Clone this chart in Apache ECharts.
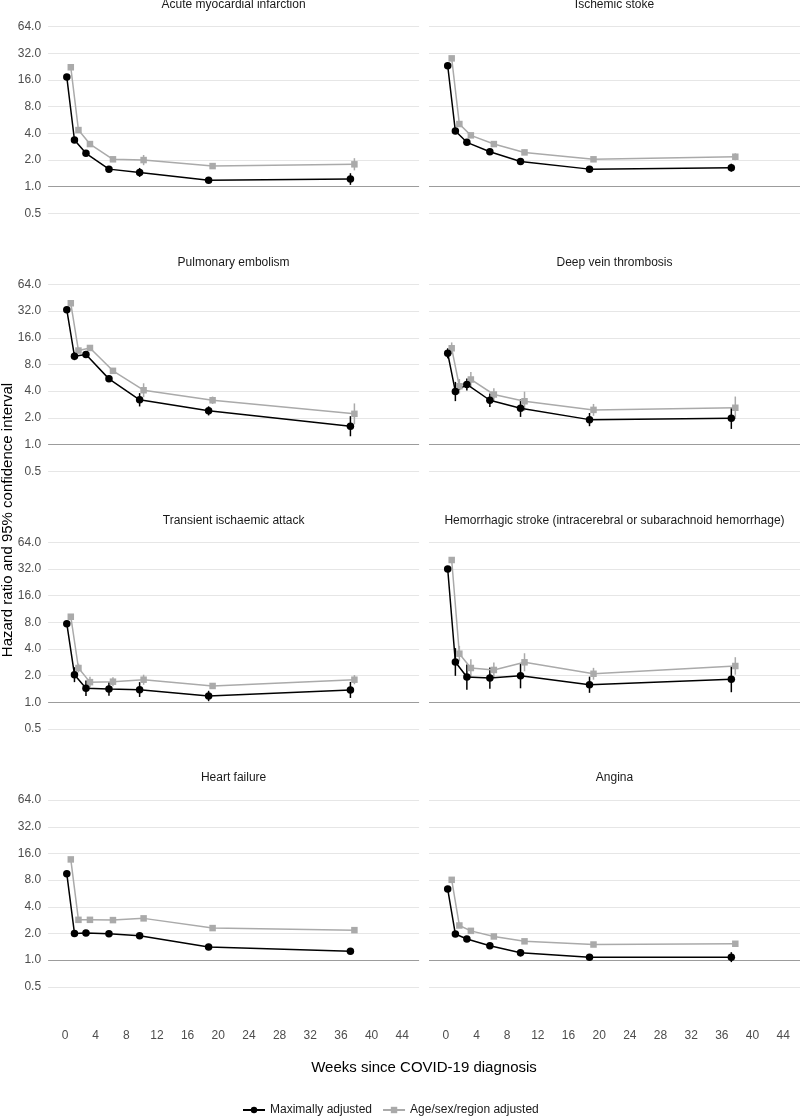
<!DOCTYPE html>
<html>
<head>
<meta charset="utf-8">
<script src="https://cdn.jsdelivr.net/npm/echarts@6/dist/echarts.min.js"></script>
<style>html,body{margin:0;padding:0;background:#fff}#c{width:800px;height:1118px}</style>
</head>
<body>
<div id="c"></div>
<script>
// ---------- data ----------
const outcomes = ['Acute myocardial infarction','Ischemic stoke','Pulmonary embolism','Deep vein thrombosis',
  'Transient ischaemic attack','Hemorrhagic stroke (intracerebral or subarachnoid hemorrhage)','Heart failure','Angina'];
const weeks = [0.5, 1.5, 3, 6, 10, 19, 37.5];           // period midpoints (weeks since diagnosis)
const xTicks = [0,4,8,12,16,20,24,28,32,36,40,44];
const yTicks = [0.5,1,2,4,8,16,32,64];
const seriesNames = ['Maximally adjusted','Age/sex/region adjusted'];

const maxHR = [
  [17.3, 3.37, 2.38, 1.58, 1.45, 1.18, 1.22],
  [23.2, 4.25, 3.17, 2.48, 1.93, 1.58, 1.64],
  [33.1, 9.93, 10.37, 5.51, 3.2, 2.4, 1.61],
  [10.7, 3.97, 4.76, 3.16, 2.57, 1.91, 1.98],
  [7.71, 2.05, 1.44, 1.41, 1.39, 1.18, 1.38],
  [32.0, 2.85, 1.93, 1.88, 2.0, 1.58, 1.82],
  [9.42, 2.0, 2.03, 1.98, 1.88, 1.41, 1.26],
  [6.33, 1.97, 1.73, 1.45, 1.21, 1.08, 1.08]
];
const maxLo = [
  [16.7, 3.14, 2.25, 1.47, 1.29, 1.12, 1.05],
  [22.4, 4.02, 3.04, 2.38, 1.78, 1.53, 1.48],
  [31.8, 8.95, 9.68, 5.07, 2.69, 2.13, 1.24],
  [9.38, 3.09, 4.06, 2.66, 2.05, 1.61, 1.50],
  [7.19, 1.69, 1.18, 1.19, 1.15, 1.03, 1.12],
  [30.3, 1.99, 1.39, 1.42, 1.44, 1.28, 1.30],
  [9.1, 1.93, 1.97, 1.93, 1.83, 1.37, 1.21],
  [6.11, 1.84, 1.65, 1.40, 1.10, 1.04, 0.95]
];
const maxHi = [
  [17.9, 3.61, 2.52, 1.69, 1.63, 1.24, 1.42],
  [24.0, 4.49, 3.31, 2.59, 2.10, 1.64, 1.82],
  [34.5, 11.0, 11.1, 5.99, 3.80, 2.70, 2.09],
  [12.2, 5.09, 5.58, 3.76, 3.23, 2.27, 2.61],
  [8.26, 2.49, 1.76, 1.68, 1.69, 1.35, 1.70],
  [33.8, 4.09, 2.67, 2.48, 2.77, 1.95, 2.54],
  [9.75, 2.07, 2.09, 2.03, 1.93, 1.45, 1.31],
  [6.55, 2.11, 1.81, 1.50, 1.33, 1.12, 1.23]
];
const ageHR = [
  [22.3, 4.36, 3.03, 2.04, 2.0, 1.71, 1.79],
  [28.1, 5.1, 3.8, 3.03, 2.44, 2.04, 2.18],
  [39.3, 11.5, 12.3, 6.79, 4.1, 3.16, 2.22],
  [12.2, 4.55, 5.42, 3.67, 3.08, 2.46, 2.6],
  [9.25, 2.44, 1.69, 1.71, 1.8, 1.53, 1.8],
  [40.4, 3.54, 2.44, 2.32, 2.83, 2.1, 2.57],
  [13.7, 2.85, 2.85, 2.83, 2.96, 2.3, 2.18],
  [8.06, 2.46, 2.14, 1.85, 1.63, 1.5, 1.53]
];
const ageLo = [
  [21.5, 4.16, 2.89, 1.93, 1.75, 1.64, 1.53],
  [27.1, 4.86, 3.67, 2.93, 2.28, 1.99, 1.99],
  [37.9, 10.7, 11.5, 6.33, 3.42, 2.87, 1.69],
  [10.5, 3.77, 4.47, 3.11, 2.40, 2.11, 1.94],
  [8.63, 2.18, 1.47, 1.52, 1.58, 1.43, 1.60],
  [38.8, 2.90, 1.94, 1.91, 2.24, 1.80, 2.05],
  [13.2, 2.77, 2.77, 2.76, 2.88, 2.25, 2.12],
  [7.78, 2.36, 2.07, 1.79, 1.56, 1.45, 1.46]
];
const ageHi = [
  [23.1, 4.58, 3.18, 2.16, 2.28, 1.78, 2.10],
  [29.1, 5.36, 3.93, 3.14, 2.62, 2.10, 2.38],
  [40.7, 12.3, 13.2, 7.28, 4.91, 3.48, 2.91],
  [14.2, 5.49, 6.58, 4.33, 3.95, 2.87, 3.48],
  [9.91, 2.73, 1.94, 1.92, 2.05, 1.64, 2.03],
  [42.1, 4.33, 3.07, 2.82, 3.58, 2.45, 3.23],
  [14.2, 2.93, 2.93, 2.90, 3.04, 2.35, 2.24],
  [8.34, 2.56, 2.21, 1.91, 1.70, 1.55, 1.60]
];

// ---------- layout / style ----------
const FONT = "'Liberation Sans', Arial, sans-serif";
const BLACK = '#000000', GREY = '#aaaaaa';
const DODGE = 0.26;
const colLeft = [48.1, 429], gridW = 371;
const rowTop0 = 26.7, rowStep = 257.8, gridH = 186.7;

const grids = [], xAxes = [], yAxes = [], series = [], graphics = [];
const gridColors = yTicks.map(v => v === 1 ? '#9c9c9c' : '#e6e6e6');

outcomes.forEach((name, i) => {
  const row = Math.floor(i / 2), col = i % 2;
  const top = rowTop0 + rowStep * row;
  grids.push({left: colLeft[col], top: top, width: gridW, height: gridH, containLabel: false, outerBoundsMode: 'none'});
  xAxes.push({
    type: 'value', gridIndex: i, min: -2.2, max: 46.2,
    axisLine: {show: false}, axisTick: {show: false}, splitLine: {show: false},
    axisLabel: {show: row === 3, customValues: xTicks, margin: 43, color: '#4d4d4d', fontSize: 12, fontFamily: FONT}
  });
  yAxes.push({
    type: 'log', logBase: 2, gridIndex: i, min: 0.5, max: 64,
    axisLine: {show: false}, axisTick: {show: false},
    splitLine: {show: true, lineStyle: {color: gridColors, width: 1}},
    axisLabel: {show: col === 0, margin: 7, color: '#4d4d4d', fontSize: 12, fontFamily: FONT,
      formatter: v => Number(v).toFixed(1)}
  });
  graphics.push({
    type: 'text', x: colLeft[col] + gridW / 2, y: top - 22,
    style: {text: name, fontSize: 12, fontFamily: FONT, fill: '#1a1a1a', textAlign: 'center', textVerticalAlign: 'middle'}
  });

  const sets = [
    {nm: seriesNames[1], hr: ageHR[i], lo: ageLo[i], hi: ageHi[i], off: DODGE, color: GREY, sym: 'rect', size: 6.5},
    {nm: seriesNames[0], hr: maxHR[i], lo: maxLo[i], hi: maxHi[i], off: -DODGE, color: BLACK, sym: 'circle', size: 7.5}
  ];
  sets.forEach(s => {
    series.push({
      type: 'custom', name: s.nm + ' CI', xAxisIndex: i, yAxisIndex: i, silent: true,
      data: weeks.map((w, j) => [w + s.off, s.lo[j], s.hi[j]]),
      encode: {x: 0, y: [1, 2]},
      renderItem: (params, api) => {
        const a = api.coord([api.value(0), api.value(1)]);
        const b = api.coord([api.value(0), api.value(2)]);
        return {type: 'line', shape: {x1: a[0], y1: a[1], x2: b[0], y2: b[1]}, style: {stroke: s.color, lineWidth: 1.5}};
      }
    });
    series.push({
      type: 'line', name: s.nm, xAxisIndex: i, yAxisIndex: i,
      data: weeks.map((w, j) => [w + s.off, s.hr[j]]),
      symbol: s.sym, symbolSize: s.size, showSymbol: true,
      lineStyle: {color: s.color, width: 1.5}, itemStyle: {color: s.color, borderWidth: 0},
      z: 3
    });
  });
});

graphics.push({
  type: 'text', x: 424, y: 1068,
  style: {text: 'Weeks since COVID-19 diagnosis', fontSize: 15, fontFamily: FONT, fill: '#000', textAlign: 'center', textVerticalAlign: 'middle'}
});
graphics.push({
  type: 'text', x: 8, y: 520, rotation: Math.PI / 2,
  style: {text: 'Hazard ratio and 95% confidence interval', fontSize: 15, fontFamily: FONT, fill: '#000', textAlign: 'center', textVerticalAlign: 'middle'}
});

const chart = echarts.init(document.getElementById('c'), null, {renderer: 'canvas'});
chart.setOption({
  animation: false,
  backgroundColor: '#ffffff',
  textStyle: {fontFamily: FONT},
  grid: grids, xAxis: xAxes, yAxis: yAxes, series: series,
  legend: {
    data: seriesNames, left: 242, top: 1104, padding: 0,
    itemWidth: 22, itemHeight: 8, itemGap: 10,
    textStyle: {fontSize: 12, color: '#1a1a1a', fontFamily: FONT}
  },
  graphic: graphics
});
</script>
</body>
</html>
